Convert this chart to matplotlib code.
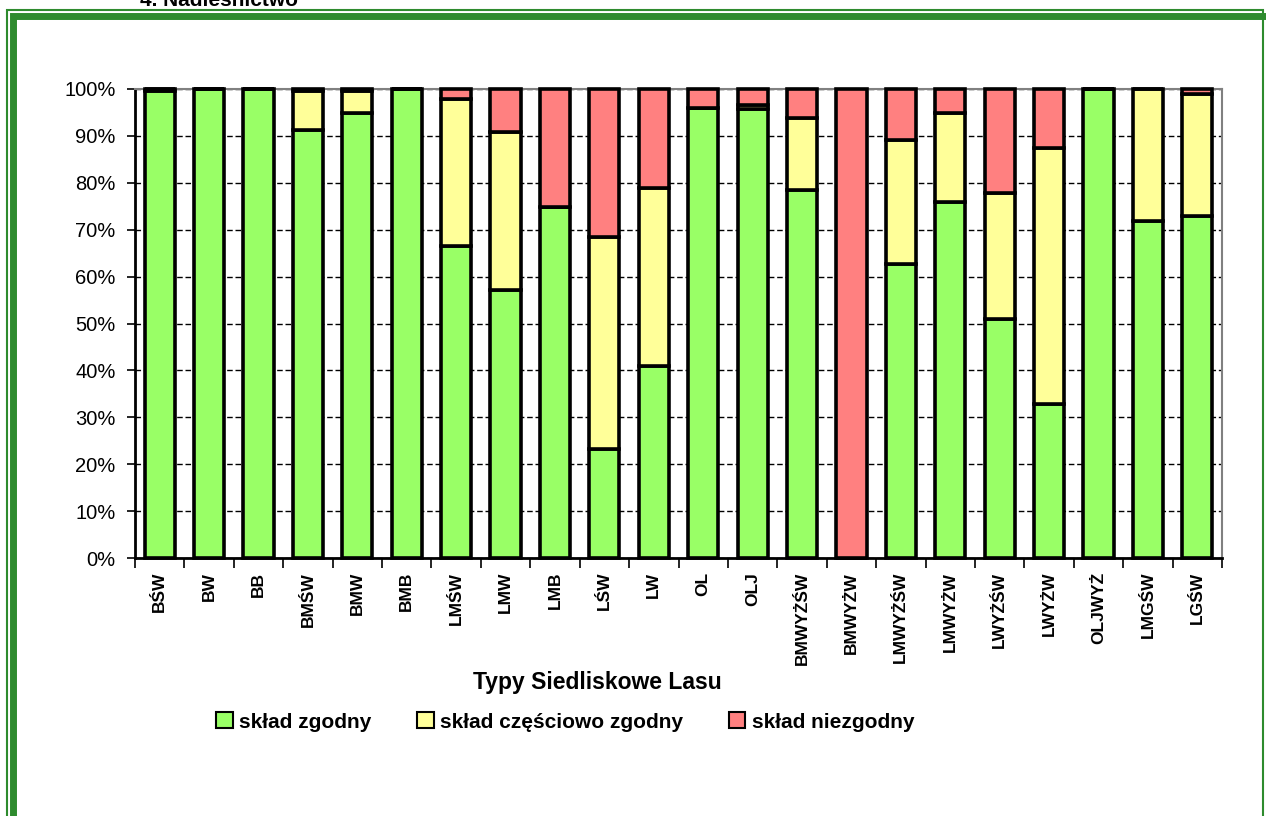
import numpy as np
import matplotlib.pyplot as plt
from matplotlib.patches import Patch, Rectangle

plt.rcParams['font.family'] = ['Liberation Sans', 'DejaVu Sans']

typy = ["BŚW", "BW", "BB", "BMŚW", "BMW", "BMB", "LMŚW", "LMW", "LMB", "LŚW", "LW",
        "OL", "OLJ", "BMWYŻŚW", "BMWYŻW", "LMWYŻŚW", "LMWYŻW", "LWYŻŚW", "LWYŻW",
        "OLJWYŻ", "LMGŚW", "LGŚW"]
zgodny = [99.5, 100, 100, 91.3, 94.9, 100, 66.5, 57.1, 74.9, 23.2, 41.0,
          96.0, 95.7, 78.4, 0, 62.6, 76.0, 50.9, 32.8, 100, 71.9, 73.0]
czesciowo = [0.5, 0, 0, 8.3, 4.7, 0, 31.3, 33.7, 0, 45.2, 37.8,
             0, 0.8, 15.4, 0, 26.5, 18.8, 26.9, 54.6, 0, 28.1, 25.9]
niezgodny = [0, 0, 0, 0.4, 0.4, 0, 2.2, 9.2, 25.1, 31.6, 21.2,
             4.0, 3.5, 6.2, 100, 10.9, 5.2, 22.2, 12.6, 0, 0, 1.1]

kolory = ["#99FF66", "#FFFF99", "#FF8080"]
nazwy = ["skład zgodny", "skład częściowo zgodny", "skład niezgodny"]

W, H = 1266, 816
fig = plt.figure(figsize=(W / 100, H / 100), dpi=100)

# green double frame around the page
ramka = "#2E8B2E"
fig.patches.append(Rectangle((7 / W, -0.1), (1263 - 7) / W, (H - 10) / H + 0.1,
                             transform=fig.transFigure, fill=False,
                             edgecolor=ramka, lw=1.5))
fig.patches.append(Rectangle((13 / W, -0.1), (1290 - 13) / W, (H - 16) / H + 0.1,
                             transform=fig.transFigure, fill=False,
                             edgecolor=ramka, lw=5.0))
fig.text(140 / W, 1 - 1 / H, "4. Nadleśnictwo", fontsize=15, fontweight="bold",
         va="center", ha="left")

ax = fig.add_axes([135 / W, (H - 558) / H, (1222 - 135) / W, (558 - 89) / H])
x = np.arange(len(typy))
g = np.array(zgodny)
c = np.array(czesciowo)
n = np.array(niezgodny)
for vals, dol, kol in [(g, 0, kolory[0]), (c, g, kolory[1]), (n, g + c, kolory[2])]:
    ax.bar(x, vals, bottom=dol, width=0.61, color=kol, edgecolor="black",
           linewidth=2.6, clip_on=False, zorder=3)

ax.set_xlim(-0.5, len(typy) - 0.5)
ax.set_ylim(0, 100)
ax.set_yticks(np.arange(0, 101, 10))
ax.set_yticklabels([f"{v}%" for v in range(0, 101, 10)], fontsize=14.5)
ax.yaxis.grid(True, linestyle=(0, (4, 2)), color="black", linewidth=1.0)
ax.set_axisbelow(True)
ax.tick_params(axis="y", length=6, width=1.2, direction="out", pad=8)

# ticks sit between categories, labels in the middle
ax.set_xticks(np.arange(-0.5, len(typy), 1))
ax.set_xticklabels([])
ax.tick_params(axis="x", which="major", length=7, width=1.2)
ax.set_xticks(x, minor=True)
ax.set_xticklabels(typy, minor=True, rotation=90, fontsize=12.5, fontweight="bold",
                   va="top")
ax.tick_params(axis="x", which="minor", length=0, pad=10)

for s in ["left", "bottom"]:
    ax.spines[s].set_color("black")
    ax.spines[s].set_linewidth(2)
for s in ["top", "right"]:
    ax.spines[s].set_color("#808080")
    ax.spines[s].set_linewidth(1.5)

fig.text(597 / W, 1 - 682 / H, "Typy Siedliskowe Lasu", fontsize=16.5,
         fontweight="bold", ha="center", va="center")

uchwyty = [Patch(facecolor=k, edgecolor="black", linewidth=1.5) for k in kolory]
fig.legend(uchwyty, nazwy, loc="center", bbox_to_anchor=(565 / W, 1 - 722 / H),
           ncol=3, frameon=False, prop={"size": 15, "weight": "bold"},
           handlelength=0.8, handleheight=0.8, handletextpad=0.3, columnspacing=2.2)

fig.savefig("out.png", dpi=100)
plt.close(fig)
